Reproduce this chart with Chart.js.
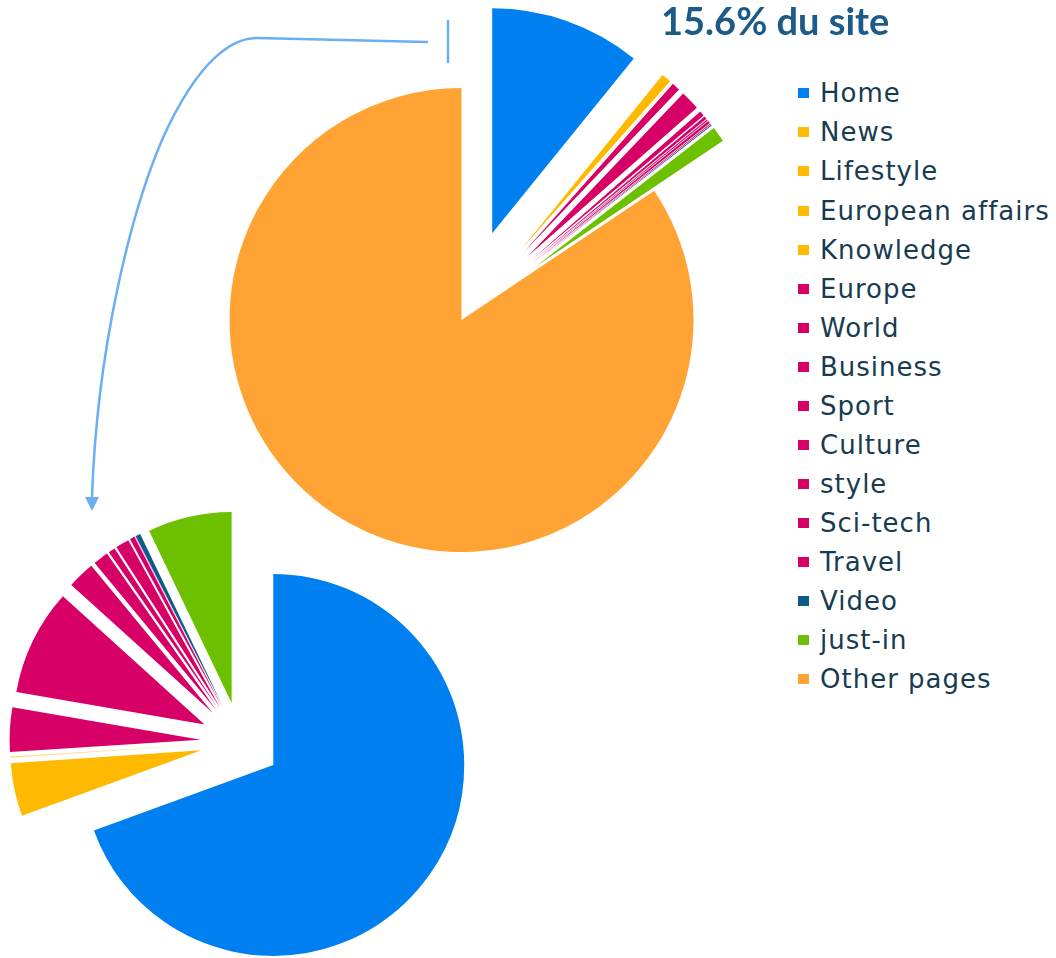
<!DOCTYPE html>
<html>
<head>
<meta charset="utf-8">
<script src="https://cdn.jsdelivr.net/npm/chart.js@4.4.1/dist/chart.umd.min.js"></script>
<style>
  html, body { margin:0; padding:0; background:#ffffff; overflow:hidden; width:1056px; height:958px; }
  #wrap { position:relative; width:1056px; height:958px; overflow:hidden; }
  #wrap canvas { position:absolute; }
  #topPie { left:141px; top:0px; }
  #bottomPie { left:0px; top:499px; }
  #arrow { position:absolute; left:0; top:0; }
  #title { position:absolute; left:661px; top:1px; font-family:Lato, "Noto Sans", sans-serif; font-weight:700; font-size:38px; line-height:38px; color:#1c5a88; white-space:nowrap; }
  .lg-row { position:absolute; left:798px; height:30px; line-height:30px; white-space:nowrap; font-family:"DejaVu Sans", sans-serif; font-size:26px; letter-spacing:1px; color:#173b51; }
  .lg-box { position:absolute; left:0; top:10px; width:11px; height:10px; }
  .lg-text { position:absolute; left:22px; top:0; }
</style>
</head>
<body>
<div id="wrap">
  <svg id="arrow" width="1056" height="958">
    <path d="M448,20 L448,63" stroke="#6aaff2" stroke-width="2.5" fill="none"/>
    <path d="M427,42 L257,38 C235,38 200,55 162,140 C130,215 97,350 92,497" stroke="#6aaff2" stroke-width="2.5" fill="none" stroke-linecap="round"/>
    <polygon points="85,497 99,497 92,511" fill="#6aaff2"/>
  </svg>
  <canvas id="topPie" width="641" height="640"></canvas>
  <canvas id="bottomPie" width="481" height="486"></canvas>
  <div id="title">15.6% du site</div>
  <div id="legend"></div>
</div>
<script>
// ---- data (share of the whole site, %) ----
const categories = ['Home','News','Lifestyle','European affairs','Knowledge','Europe','World','Business','Sport','Culture','style','Sci-tech','Travel','Video','just-in','Other pages'];
const sharePct   = [10.83, 0.70, 0.004, 0.003, 0.003, 0.585, 1.40, 0.36, 0.20, 0.09, 0.18, 0.065, 0.004, 0.065, 1.11, 84.4];
const sliceColors = ['#0080f0','#ffb900','#ffb900','#ffb900','#ffb900','#d60066','#d60066','#d60066','#d60066','#d60066','#d60066','#d60066','#d60066','#0e5a88','#6cc000','#ffa334'];
const titleText = '15.6% du site';

// sub-pie: every category except "Other pages"
const subCategories = categories.slice(0, categories.length - 1);
const subShare = sharePct.slice(0, sharePct.length - 1);
const subColors = sliceColors.slice(0, sliceColors.length - 1);

// ---- style ----
const TOP_RADIUS = 232, TOP_EXPLODE = 92;
const BOTTOM_RADIUS = 194, BOTTOM_EXPLODE = 40;
const EXPLODED_SHRINK = 0.076;

// Exploded slices: translate along the slice middle, keep (about) the same radius.
const ArcEl = Chart.ArcElement || Chart.registry.getElement('arc');
const baseDraw = ArcEl.prototype.draw;
ArcEl.prototype.draw = function(ctx, area) {
  const opts = this.options;
  const T = (opts.offset || 0) / 4;
  if (!T) return baseDraw.call(this, ctx, area);
  const mid = (this.startAngle + this.endAngle) / 2;
  const r = this.outerRadius;
  ctx.save();
  ctx.translate(Math.cos(mid) * T, Math.sin(mid) * T);
  this.options = Object.assign({}, opts, { offset: 0 });
  this.outerRadius = Math.max(r - T * EXPLODED_SHRINK, 0);
  baseDraw.call(this, ctx, area);
  this.options = opts;
  this.outerRadius = r;
  ctx.restore();
};

function pieConfig(labels, values, colors, radius, offsets) {
  return {
    type: 'pie',
    data: { labels: labels, datasets: [{ data: values, backgroundColor: colors, borderWidth: 0, borderColor: 'rgba(0,0,0,0)', spacing: 0, offset: offsets, hoverOffset: 0 }] },
    options: {
      responsive: false, animation: false, events: [],
      radius: radius, rotation: 0,
      layout: { padding: 0 },
      plugins: { legend: { display: false }, tooltip: { enabled: false }, title: { display: false } }
    }
  };
}

const topOffsets = categories.map((c, i) => i === categories.length - 1 ? 0 : TOP_EXPLODE * 4);
new Chart(document.getElementById('topPie'), pieConfig(categories, sharePct, sliceColors, TOP_RADIUS, topOffsets));

const bottomOffsets = subCategories.map(() => BOTTOM_EXPLODE * 4);
new Chart(document.getElementById('bottomPie'), pieConfig(subCategories, subShare, subColors, BOTTOM_RADIUS, bottomOffsets));

// ---- title & legend ----
document.getElementById('title').textContent = titleText;
const lg = document.getElementById('legend');
categories.forEach((c, i) => {
  const row = document.createElement('div');
  row.className = 'lg-row';
  row.style.top = (78.3 + i * 39.07) + 'px';
  const box = document.createElement('div');
  box.className = 'lg-box';
  box.style.background = sliceColors[i];
  const t = document.createElement('div');
  t.className = 'lg-text';
  t.textContent = c;
  row.appendChild(box); row.appendChild(t);
  lg.appendChild(row);
});
</script>
</body>
</html>
